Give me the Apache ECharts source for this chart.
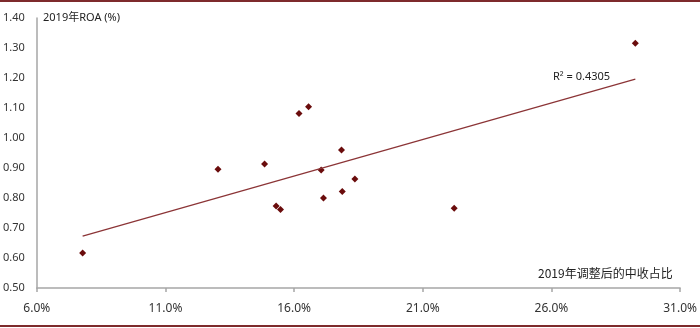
<!DOCTYPE html>
<html>
<head>
<meta charset="utf-8">
<script src="https://cdn.jsdelivr.net/npm/echarts@6/dist/echarts.min.js"></script>
<style>
  html, body { margin: 0; padding: 0; background: #fff; }
  #chart { width: 700px; height: 328px; position: relative; }
  .rule { position: absolute; left: 0; width: 700px; height: 2px; background: #7e2a2c; }
</style>
</head>
<body>
<div id="chart"></div>
<div class="rule" style="top:0"></div>
<div class="rule" style="top:325px"></div>
<script>
// 2019年调整后的中收占比 (%) vs 2019年ROA (%)
const feeShare = [7.78, 13.04, 14.85, 15.30, 15.47, 17.05, 17.14, 17.84, 17.87, 18.36, 22.22, 16.19, 16.56, 29.26]
const roa = [0.617, 0.896, 0.913, 0.773, 0.762, 0.893, 0.800, 0.960, 0.822, 0.863, 0.766, 1.082, 1.104, 1.316]

// 趋势线端点
const trendX = [7.78, 29.26]
const trendY = [0.673, 1.196]
const r2Text = 'R² = 0.4305'

const xTicks = { min: 6, max: 31, step: 5 }
const yTicks = { min: 0.5, max: 1.4, step: 0.1 }

const chart = echarts.init(document.getElementById('chart'))

const option = {
  animation: false,
  grid: { left: 34, right: 19, top: 18, bottom: 40 },
  xAxis: {
    type: 'value',
    min: xTicks.min,
    max: xTicks.max,
    interval: xTicks.step,
    splitLine: { show: false },
    axisLine: { lineStyle: { color: '#a6a6a6', width: 1.5 } },
    axisTick: { show: true, length: 4, lineStyle: { color: '#a6a6a6', width: 1.5 } },
    axisLabel: {
      margin: 15,
      color: '#333',
      fontSize: 12,
      fontFamily: 'Noto Sans',
      formatter: v => v.toFixed(1) + '%'
    }
  },
  yAxis: {
    type: 'value',
    min: yTicks.min,
    max: yTicks.max,
    interval: yTicks.step,
    splitLine: { show: false },
    axisLine: { show: true, lineStyle: { color: '#a6a6a6', width: 1.5 } },
    axisTick: { show: false },
    axisLabel: {
      margin: 12,
      color: '#333',
      fontSize: 11,
      fontFamily: 'Noto Sans',
      formatter: v => v.toFixed(2)
    }
  },
  graphic: [
    {
      type: 'text', left: 43, top: 12,
      style: { text: '2019年ROA (%)', fontSize: 11, fill: '#222', fontFamily: 'Noto Sans, Noto Sans CJK SC' }
    },
    {
      type: 'text', left: 553, top: 71,
      style: { text: r2Text, fontSize: 11, fill: '#222', fontFamily: 'Noto Sans' }
    },
    {
      type: 'text', left: 538, top: 267,
      style: { text: '2019年调整后的中收占比', fontSize: 12, fill: '#222', fontFamily: 'Noto Sans CJK SC' }
    }
  ],
  series: [
    {
      type: 'line',
      data: trendX.map((x, i) => [x, trendY[i]]),
      showSymbol: false,
      lineStyle: { color: '#8b3436', width: 1.2 },
      silent: true
    },
    {
      type: 'scatter',
      data: feeShare.map((x, i) => [x, roa[i]]),
      symbol: 'diamond',
      symbolSize: 7,
      itemStyle: { color: '#6a0c0c', opacity: 1 }
    }
  ]
}

chart.setOption(option)
</script>
</body>
</html>
